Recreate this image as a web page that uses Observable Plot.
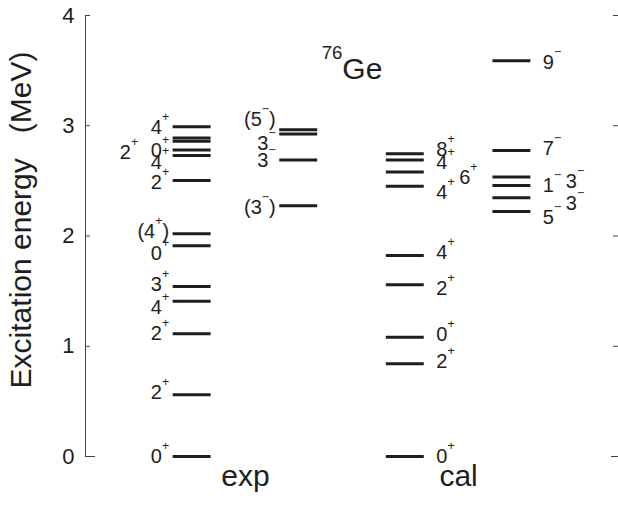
<!DOCTYPE html>
<html>
<head>
<meta charset="utf-8">
<script src="https://cdn.jsdelivr.net/npm/d3@7"></script>
<script src="https://cdn.jsdelivr.net/npm/@observablehq/plot@0.6"></script>
<style>
  html, body { margin: 0; padding: 0; background: #fff; }
  svg { display: block; }
</style>
</head>
<body>
<div id="chart"></div>
<script>
// Level scheme of 76Ge: experimental vs calculated levels (MeV).
// "^" marks a superscript (parity sign or mass number).

const nucleus = "^{76}Ge";
const yTitle = "Excitation energy\u00a0\u00a0\u00a0(MeV)";
const yTicks = [0, 1, 2, 3, 4];
const groups = ["exp", "cal"];

// experimental, positive parity
const expPosE = [0, 0.559, 1.113, 1.409, 1.542, 1.911, 2.020, 2.503, 2.730, 2.780, 2.860, 2.890, 2.990];
const expPosJ = ["0^+", "2^+", "2^+", "4^+", "3^+", "0^+", "(4^+)", "2^+", "", "4^+", "0^+", "2^+", "4^+"];
const expPosLabelE = [0, 0.576, 1.116, 1.347, 1.56, 1.841, 2.041, 2.481, null, 2.669, 2.776, 2.757, 2.98];
const expPosLane = [0, 0, 0, 0, 0, 0, 0, 0, 0, 0, 0, 1, 0];

// experimental, negative parity
const expNegE = [2.274, 2.690, 2.926, 2.963];
const expNegJ = ["(3^−)", "3^−", "3^−", "(5^−)"];
const expNegLabelE = [2.254, 2.685, 2.84, 3.056];
const expNegLane = [0, 0, 0, 0];

// calculated, positive parity
const calPosE = [0, 0.841, 1.082, 1.557, 1.823, 2.452, 2.580, 2.690, 2.745];
const calPosJ = ["0^+", "2^+", "0^+", "2^+", "4^+", "4^+", "6^+", "4^+", "8^+"];
const calPosLabelE = [0, 0.862, 1.102, 1.524, 1.851, 2.395, 2.531, 2.667, 2.785];
const calPosLane = [0, 0, 0, 0, 0, 0, 1, 0, 0];

// calculated, negative parity
const calNegE = [2.222, 2.347, 2.458, 2.535, 2.776, 3.590];
const calNegJ = ["5^−", "3^−", "3^−", "1^−", "7^−", "9^−"];
const calNegLabelE = [2.168, 2.295, 2.49, 2.454, 2.794, 3.574];
const calNegLane = [0, 1, 1, 0, 0, 0];

// columns left to right; exp labels sit left of the bars, cal labels right
const columns = [
  {E: expPosE, J: expPosJ, LE: expPosLabelE, lane: expPosLane, side: "left"},
  {E: expNegE, J: expNegJ, LE: expNegLabelE, lane: expNegLane, side: "left"},
  {E: calPosE, J: calPosJ, LE: calPosLabelE, lane: calPosLane, side: "right"},
  {E: calNegE, J: calNegJ, LE: calNegLabelE, lane: calNegLane, side: "right"}
];

const levels = columns.flatMap((c, ci) =>
  c.E.map((E, i) => ({col: ci + 1, E, J: c.J[i], labelE: c.LE[i], lane: c.lane[i], side: c.side}))
);
const labelled = levels.filter(d => d.J);

const width = 618, height = 518;
const marginLeft = 85, marginRight = 0, marginTop = 15, marginBottom = 62;
const frameW = width - marginLeft - marginRight;
const halfBar = 0.178;     // half bar length, in column units
const leftLane = 0.29, rightLane = 0.215;
const ink = "#1e1e1e";

const chart = Plot.plot({
  width, height, marginLeft, marginRight, marginTop, marginBottom,
  style: {fontFamily: "'Liberation Sans', Arial, Helvetica, sans-serif", background: "#fff", color: ink},
  x: {domain: [0, 5], axis: null},
  y: {domain: [0, 4], axis: null},
  marks: [
    // left axis with inward ticks, right-side ticks
    Plot.ruleX([0], {y1: () => 0, y2: () => 4, stroke: "#444", strokeWidth: 1}),
    Plot.ruleY(yTicks, {y: d => d, insetRight: frameW - 5, stroke: "#444"}),
    Plot.ruleY([0], {y: d => d, insetRight: frameW - 10, stroke: "#444"}),
    Plot.ruleY(yTicks, {y: d => d, insetLeft: frameW - 5, stroke: "#444"}),
    Plot.ruleY([0], {y: d => d, insetLeft: frameW - 7, stroke: "#444"}),
    Plot.text(yTicks, {x: () => 0, y: d => d, text: d => String(d), textAnchor: "end", dx: -11, fontSize: 22, fill: ink}),
    Plot.text([yTitle], {
      frameAnchor: "left", textAnchor: "middle", lineAnchor: "middle",
      rotate: -90, dx: -64, dy: -16, fontSize: 30, fill: ink
    }),

    // energy levels
    Plot.ruleY(levels, {y: "E", x1: d => d.col - halfBar, x2: d => d.col + halfBar, stroke: ink, strokeWidth: 3}),

    // spin-parity labels
    Plot.text(labelled.filter(d => d.side === "left"), {
      x: d => d.col - halfBar - d.lane * leftLane, y: "labelE", text: "J",
      textAnchor: "end", dx: -4, fontSize: 20, fill: ink
    }),
    Plot.text(labelled.filter(d => d.side === "right"), {
      x: d => d.col + halfBar + d.lane * rightLane, y: "labelE", text: "J",
      textAnchor: "start", dx: 12, fontSize: 20, fill: ink
    }),

    // nucleus and column group names
    Plot.text([nucleus], {x: () => 2.5, y: () => 3.515, fontSize: 30, fill: ink}),
    Plot.text(groups, {
      x: (d, i) => 1.5 + 2 * i, frameAnchor: "bottom", lineAnchor: "middle",
      dy: 20, fontSize: 30, fill: ink
    })
  ]
});

document.getElementById("chart").appendChild(chart);

// turn "^x" / "^{xy}" into raised, smaller tspans
d3.select(chart).selectAll("text").each(function () {
  const s = this.textContent;
  const m = /^(.*?)\^(\{[^}]*\}|.)(.*)$/.exec(s);
  if (!m) return;
  const fs = parseFloat(getComputedStyle(this).fontSize);
  const pre = m[1], sup = m[2].replace(/[{}]/g, ""), post = m[3];
  const raise = fs * 0.66;
  const t = d3.select(this);
  t.text(null);
  if (pre) t.append("tspan").text(pre);
  t.append("tspan").attr("font-size", fs * 0.62).attr("dy", -raise).text(sup);
  if (post) t.append("tspan").attr("dy", raise).text(post);
});
</script>
</body>
</html>
